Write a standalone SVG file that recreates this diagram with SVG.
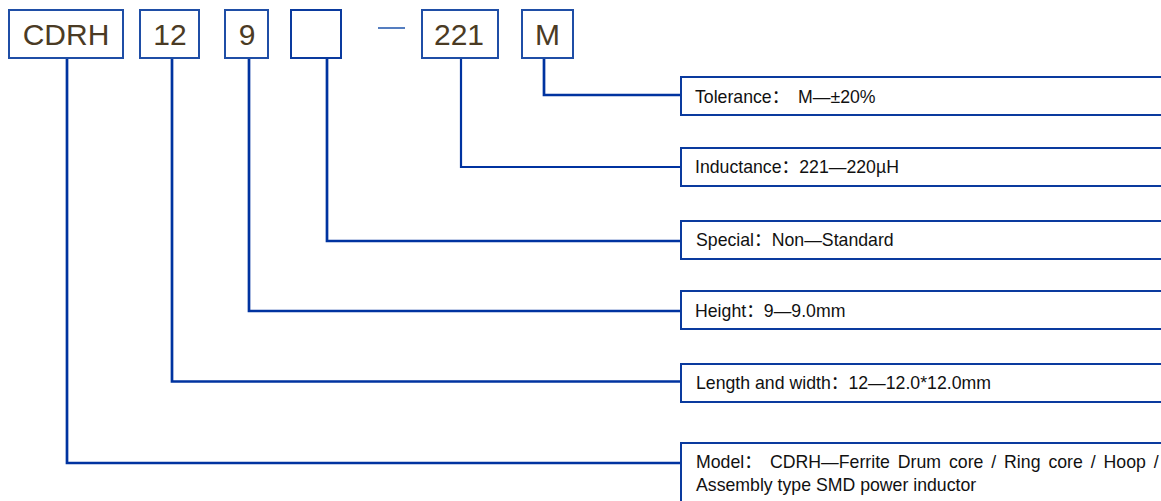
<svg xmlns="http://www.w3.org/2000/svg" width="1161" height="501" viewBox="0 0 1161 501">
<style>
.top rect{fill:#fff;stroke:#1f4ea6;stroke-width:2}
.top text{font-family:"Liberation Sans","Noto Sans CJK SC",sans-serif;font-size:30px;fill:#4b3b24;text-anchor:middle}
.desc rect{fill:#fff;stroke:#0a3a9e;stroke-width:2}
.desc text{font-family:"Liberation Sans","Noto Sans CJK SC",sans-serif;font-size:17.7px;fill:#111}
#connectors polyline{fill:none;stroke:#0033a0;stroke-width:2.7}
</style>
<rect width="1161" height="501" fill="#fff"/>
<g id="connectors">
<polyline points="544,58 544,95 681,95"/>
<polyline points="461,58 461,167 681,167" style="stroke-width:2.2"/>
<polyline points="327,58 327,241 681,241"/>
<polyline points="249,58 249,311 681,311"/>
<polyline points="172,58 172,381.5 681,381.5"/>
<polyline points="67,58 67,463 681,463"/>
</g>
<g id="code-cdrh" class="top"><rect x="9" y="10" width="114" height="48"/><text x="66" y="45">CDRH</text></g>
<g id="code-12" class="top"><rect x="140" y="10" width="59" height="48"/><text x="170" y="45">12</text></g>
<g id="code-9" class="top"><rect x="225" y="10" width="43" height="48"/><text x="247" y="45">9</text></g>
<g id="code-special" class="top"><rect x="291" y="10" width="50" height="48" style="stroke:#0a3a9e"/></g>
<g id="code-dash"><line x1="378" y1="28" x2="405" y2="28" stroke="#2a5db0" stroke-width="1.6"/></g>
<g id="code-221" class="top"><rect x="422" y="10" width="76" height="48"/><text x="459" y="45">221</text></g>
<g id="code-m" class="top"><rect x="522" y="10" width="51" height="48"/><text x="547.5" y="45">M</text></g>
<g id="desc-tolerance" class="desc"><rect x="681" y="77" width="490" height="38"/><text x="695" y="103">Tolerance：<tspan x="798">M—±20%</tspan></text></g>
<g id="desc-inductance" class="desc"><rect x="681" y="148" width="490" height="38"/><text x="695" y="173">Inductance：221—220µH</text></g>
<g id="desc-special" class="desc"><rect x="681" y="221" width="490" height="38"/><text x="696" y="246">Special：Non—Standard</text></g>
<g id="desc-height" class="desc"><rect x="681" y="291" width="490" height="38"/><text x="695" y="317">Height：9—9.0mm</text></g>
<g id="desc-length" class="desc"><rect x="681" y="364" width="490" height="38"/><text x="696" y="389">Length and width：12—12.0*12.0mm</text></g>
<g id="desc-model" class="desc"><rect x="681" y="443" width="490" height="70"/>
<text y="468"><tspan x="696">Model：</tspan><tspan x="770" word-spacing="3">CDRH—Ferrite Drum core / Ring core / Hoop /</tspan></text>
<text x="696" y="491">Assembly type SMD power inductor</text></g>
</svg>
